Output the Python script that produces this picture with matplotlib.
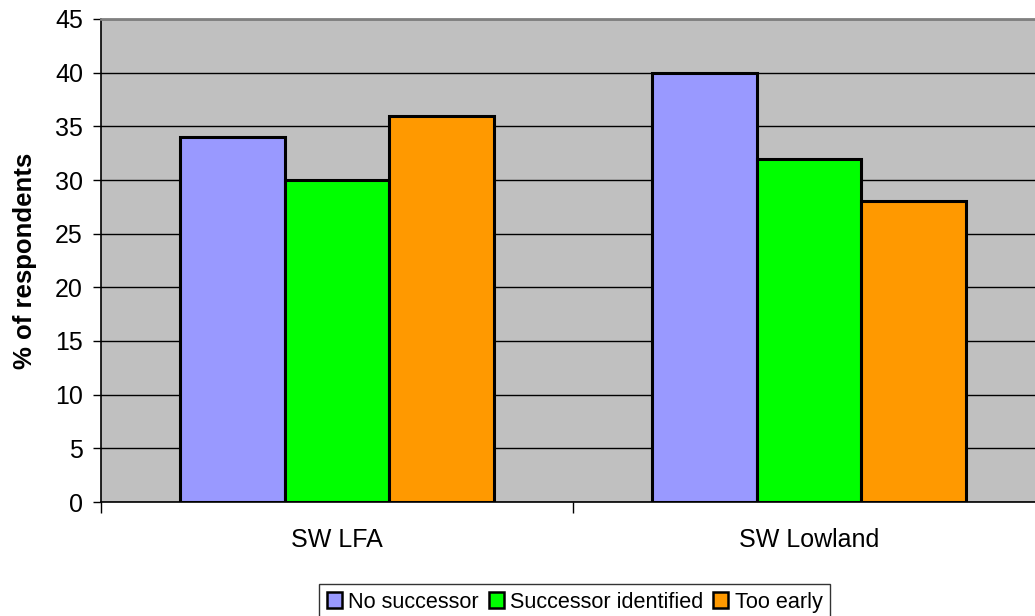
import matplotlib
matplotlib.use("Agg")
import matplotlib.pyplot as plt
import numpy as np
from matplotlib.patches import Patch

categories = ["SW LFA", "SW Lowland"]
series_names = ["No successor", "Successor identified", "Too early"]
no_successor = [34, 40]
successor_identified = [30, 32]
too_early = [36, 28]
values = [no_successor, successor_identified, too_early]
colors = ["#9999FF", "#00FF00", "#FF9900"]

plt.rcParams['font.family'] = ['Liberation Sans', 'DejaVu Sans']

fig = plt.figure(figsize=(10.35, 6.16), dpi=100)
ax = fig.add_axes([101/1035, 1-502/616, 944/1035, 483/616])
ax.set_facecolor("#C0C0C0")

w = 1/4.5
centers = np.arange(len(categories)) + 0.5
for i, (vals, c) in enumerate(zip(values, colors)):
    ax.bar(centers + (i-1)*w, vals, width=w, color=c, edgecolor="black", linewidth=2.2, zorder=3)

ax.set_xlim(0, len(categories))
ax.set_ylim(0, 45)
ax.set_yticks(np.arange(0, 46, 5))
ax.yaxis.grid(True, color="black", linewidth=1)
ax.set_axisbelow(True)
ax.set_xticks(np.arange(0, len(categories)+1), minor=False)
ax.set_xticklabels([])
ax.set_xticks(centers, minor=True)
ax.set_xticklabels(categories, minor=True)
ax.tick_params(axis="x", which="major", length=8, width=1, direction="out")
ax.tick_params(axis="x", which="minor", length=0, pad=19, labelsize=18)
ax.tick_params(axis="y", length=6, width=1, labelsize=18, pad=7)
for s in ["left", "bottom"]:
    ax.spines[s].set_linewidth(1.2)
ax.spines["top"].set_color("#808080")
ax.spines["top"].set_linewidth(2)
ax.spines["right"].set_visible(False)
ax.set_ylabel("% of respondents", fontsize=18.5, fontweight="bold", labelpad=13)

handles = [Patch(facecolor=c, edgecolor="black", linewidth=1.8) for c in colors]
leg = fig.legend(handles, series_names, loc="upper left", bbox_to_anchor=(319/1035, 1-584/616),
                 ncol=3, fontsize=15.6, frameon=True, fancybox=False, edgecolor="black",
                 handlelength=0.7, handleheight=0.7, handletextpad=0.3, columnspacing=0.45,
                 borderpad=0.35, borderaxespad=0)
leg.get_frame().set_linewidth(1)

fig.savefig("out.png", dpi=100)
